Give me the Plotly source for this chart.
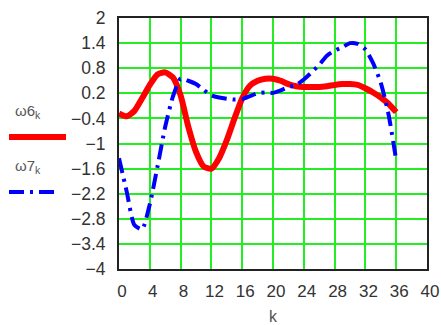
import plotly.graph_objects as go

# sample index
k = list(range(37))

# ω6 series (solid red)
w6 = [-0.28, -0.35, -0.22, 0.08, 0.4, 0.65, 0.7, 0.58, 0.15, -0.6,
      -1.2, -1.55, -1.6, -1.35, -0.92, -0.4, 0.08, 0.38, 0.5, 0.55,
      0.55, 0.5, 0.42, 0.37, 0.35, 0.35, 0.35, 0.37, 0.4, 0.42,
      0.42, 0.4, 0.32, 0.22, 0.1, -0.05, -0.25]

# ω7 series (blue dash-dot)
w7 = [-1.35, -2.15, -2.95, -3.05, -2.45, -1.55, -0.6, 0.12, 0.55, 0.5,
      0.42, 0.28, 0.15, 0.1, 0.07, 0.05, 0.06, 0.13, 0.2, 0.22,
      0.21, 0.27, 0.35, 0.4, 0.53, 0.7, 0.88, 1.1, 1.22, 1.3,
      1.4, 1.38, 1.25, 0.92, 0.45, -0.3, -1.4]

x_ticks = list(range(0, 41, 4))
y_ticks = [-4, -3.4, -2.8, -2.2, -1.6, -1, -0.4, 0.2, 0.8, 1.4, 2]
y_tick_text = ["\u22124", "\u22123.4", "\u22122.8", "\u22122.2", "\u22121.6", "\u22121",
               "\u22120.4", "0.2", "0.8", "1.4", "2"]

RED = "#ff0000"
BLUE = "#0000ff"
GRID = "#22ee22"
TXT = "#333333"
BLUE_DASH = "15px,6px,3px,6px"

fig = go.Figure()
fig.add_trace(go.Scatter(x=k, y=w6, mode="lines", line=dict(color=RED, width=6, shape="spline", smoothing=0.6),
                         showlegend=False, hoverinfo="skip"))
fig.add_trace(go.Scatter(x=k, y=w7, mode="lines", line=dict(color=BLUE, width=4, dash=BLUE_DASH, shape="spline", smoothing=0.6),
                         showlegend=False, hoverinfo="skip"))

L, R, T, B = 119, 14, 18, 56
W, H = 441, 325
pw, ph = W - L - R, H - T - B


def px(xp):
    return (xp - L) / pw


def py(yp):
    return (H - B - yp) / ph


# legend entries drawn as text plus a line sample
fig.add_annotation(x=px(13), y=py(111), xref="paper", yref="paper", text="ω6<sub>k</sub>",
                   showarrow=False, xanchor="left", yanchor="middle",
                   font=dict(family="Liberation Sans", size=15, color="#555555"))
fig.add_shape(type="line", xref="paper", yref="paper", x0=px(9), x1=px(66), y0=py(137), y1=py(137),
              line=dict(color=RED, width=6))
fig.add_annotation(x=px(13), y=py(167), xref="paper", yref="paper", text="ω7<sub>k</sub>",
                   showarrow=False, xanchor="left", yanchor="middle",
                   font=dict(family="Liberation Sans", size=15, color="#555555"))
fig.add_shape(type="line", xref="paper", yref="paper", x0=px(9), x1=px(60), y0=py(192), y1=py(192),
              line=dict(color=BLUE, width=4, dash=BLUE_DASH))

fig.update_layout(
    width=W, height=H,
    margin=dict(l=L, r=R, t=T, b=B),
    paper_bgcolor="white", plot_bgcolor="white",
    font=dict(family="Liberation Sans", size=16, color=TXT),
    xaxis=dict(range=[0, 40], tickvals=x_ticks, showgrid=True, gridcolor=GRID, gridwidth=1.5,
               zeroline=False, showline=True, linecolor="#222222", linewidth=2, mirror=True,
               ticks="outside", ticklen=6, tickcolor="rgba(0,0,0,0)", ticklabelshift=3,
               tickfont=dict(size=17), automargin=False,
               title=dict(text="k", standoff=16, font=dict(size=16, color="#555555"))),
    yaxis=dict(range=[-4, 2], tickvals=y_ticks, ticktext=y_tick_text, showgrid=True, gridcolor=GRID,
               gridwidth=1.5, zeroline=False, showline=True, linecolor="#222222", linewidth=2, mirror=True,
               ticks="outside", ticklen=8, tickcolor="rgba(0,0,0,0)", tickfont=dict(size=17.5),
               automargin=False),
)

fig.write_html("out.html")
